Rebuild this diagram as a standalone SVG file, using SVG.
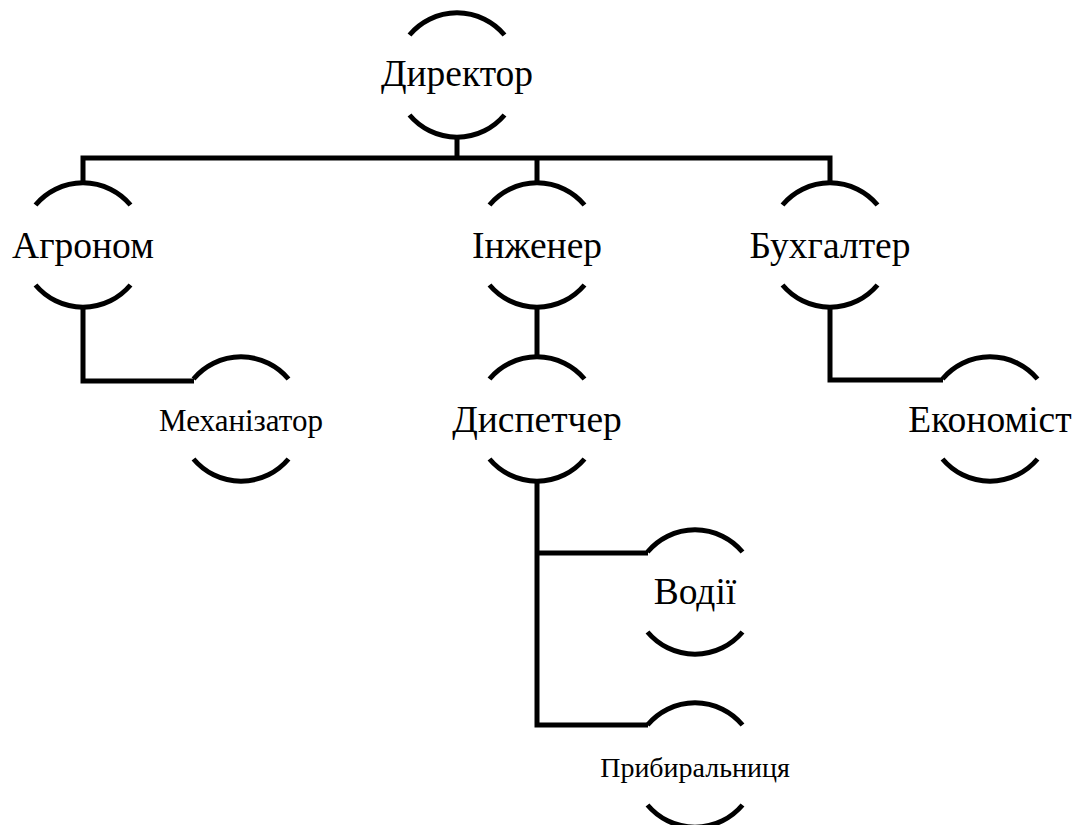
<svg xmlns="http://www.w3.org/2000/svg" width="1076" height="825" viewBox="0 0 1076 825">
<style>
.arc{fill:none;stroke:#000;stroke-width:5}
.ln{fill:none;stroke:#000;stroke-width:5}
text{font-family:'Liberation Serif','Times New Roman',serif;text-anchor:middle;fill:#000}
.big{font-size:37.5px}
.mid{font-size:31px}
.sm{font-size:28px}
</style>
<rect width="1076" height="825" fill="#fff"/>
<defs>
<path id="node" class="arc" d="M -47.5 -40 A 62 62 0 0 1 47.5 -40 M -47.5 40 A 62 62 0 0 0 47.5 40"/>
</defs>
<g id="connectors">
<path class="ln" d="M 457 135 V 158 M 83 183 V 158 H 830 V 183 M 537 158 V 183"/>
<path class="ln" d="M 83 307 V 381 H 194"/>
<path class="ln" d="M 537 307 V 357"/>
<path class="ln" d="M 830 307 V 380 H 943"/>
<path class="ln" d="M 537 482 V 725 H 648 M 537 553 H 648"/>
</g>
<g id="n-director"><use href="#node" x="457" y="75"/><text class="big" x="457" y="86">Директор</text></g>
<g id="n-agronom"><use href="#node" x="83" y="245"/><text class="big" x="83" y="258">Агроном</text></g>
<g id="n-inzhener"><use href="#node" x="537" y="245"/><text class="big" x="537" y="258">Інженер</text></g>
<g id="n-buhhalter"><use href="#node" x="830" y="245"/><text class="big" x="830" y="258">Бухгалтер</text></g>
<g id="n-mehanizator"><use href="#node" x="241" y="419"/><text class="mid" x="241" y="431">Механізатор</text></g>
<g id="n-dyspetcher"><use href="#node" x="537" y="419"/><text class="big" x="537" y="432">Диспетчер</text></g>
<g id="n-ekonomist"><use href="#node" x="990" y="419"/><text class="big" x="990" y="432">Економіст</text></g>
<g id="n-vodii"><use href="#node" x="695" y="592"/><text class="big" x="695" y="604">Водії</text></g>
<g id="n-prybyralnytsia"><use href="#node" x="695" y="765"/><text class="sm" x="695" y="777">Прибиральниця</text></g>
</svg>
